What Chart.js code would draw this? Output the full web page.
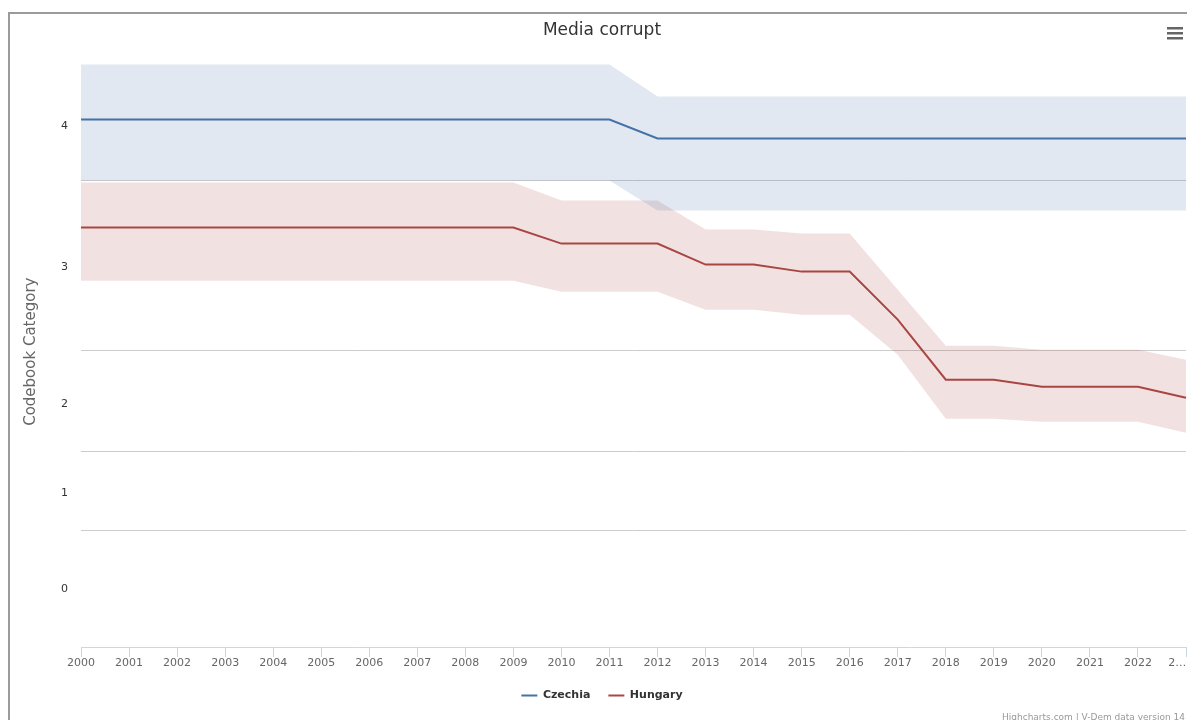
<!DOCTYPE html>
<html>
<head>
<meta charset="utf-8">
<title>Media corrupt</title>
<script src="https://cdn.jsdelivr.net/npm/chart.js@4"></script>
<style>
  html, body { margin: 0; padding: 0; background: #fff; overflow: hidden; }
  #chart { display: block; }
</style>
</head>
<body>
<canvas id="chart" width="1187" height="720"></canvas>
<script>
// Data (latent scale, arbitrary units)
const years = ['2000','2001','2002','2003','2004','2005','2006','2007','2008','2009','2010','2011',
  '2012','2013','2014','2015','2016','2017','2018','2019','2020','2021','2022','2023'];

const czechia     = [2.27,2.27,2.27,2.27,2.27,2.27,2.27,2.27,2.27,2.27,2.27,2.27, 2.08,2.08,2.08,2.08,2.08,2.08,2.08,2.08,2.08,2.08,2.08,2.08];
const czechiaHigh = [2.82,2.82,2.82,2.82,2.82,2.82,2.82,2.82,2.82,2.82,2.82,2.82, 2.50,2.50,2.50,2.50,2.50,2.50,2.50,2.50,2.50,2.50,2.50,2.50];
const czechiaLow  = [1.66,1.66,1.66,1.66,1.66,1.66,1.66,1.66,1.66,1.66,1.66,1.66, 1.36,1.36,1.36,1.36,1.36,1.36,1.36,1.36,1.36,1.36,1.36,1.36];

const hungary     = [1.19,1.19,1.19,1.19,1.19,1.19,1.19,1.19,1.19,1.19, 1.03,1.03,1.03, 0.82,0.82, 0.75,0.75, 0.27, -0.33,-0.33, -0.40,-0.40,-0.40, -0.51];
const hungaryHigh = [1.64,1.64,1.64,1.64,1.64,1.64,1.64,1.64,1.64,1.64, 1.46,1.46,1.46, 1.17,1.17, 1.13,1.13, 0.57, 0.01,0.01, -0.03,-0.03,-0.03, -0.13];
const hungaryLow  = [0.66,0.66,0.66,0.66,0.66,0.66,0.66,0.66,0.66,0.66, 0.55,0.55,0.55, 0.37,0.37, 0.32,0.32, -0.08, -0.72,-0.72, -0.75,-0.75,-0.75, -0.86];

// Codebook category labels sit between the category thresholds
const codebookLabels = ['0', '1', '2', '3', '4'];
const labelPositions = [-2.42, -1.46, -0.57, 0.79, 2.20];
const thresholds = [-1.84, -1.05, -0.04, 1.66];

const blue = '#4572A7';
const red = '#AA4643';

const chrome = {
  id: 'chrome',
  afterDraw(chart) {
    const ctx = chart.ctx;
    ctx.save();
    // outer frame
    ctx.fillStyle = '#9b9b9b';
    ctx.fillRect(8, 12, 2, 720);
    ctx.fillRect(8, 12, 1187, 2);
    // menu icon
    ctx.fillStyle = '#666';
    ctx.fillRect(1167, 27, 16, 2.5);
    ctx.fillRect(1167, 32, 16, 2.5);
    ctx.fillRect(1167, 37, 16, 2.5);
    // credits
    ctx.font = '9px "DejaVu Sans"';
    ctx.fillStyle = '#999';
    ctx.textAlign = 'right';
    ctx.textBaseline = 'alphabetic';
    ctx.fillText('Highcharts.com | V-Dem data version 14', 1185, 720);
    ctx.restore();
  }
};

new Chart(document.getElementById('chart').getContext('2d'), {
  type: 'line',
  data: {
    labels: years,
    datasets: [
      { label: 'czechiaLow', data: czechiaLow, borderWidth: 0, pointRadius: 0, fill: false },
      { label: 'czechiaHigh', data: czechiaHigh, borderWidth: 0, pointRadius: 0, fill: '-1', backgroundColor: 'rgba(69,114,167,0.16)' },
      { label: 'hungaryLow', data: hungaryLow, borderWidth: 0, pointRadius: 0, fill: false },
      { label: 'hungaryHigh', data: hungaryHigh, borderWidth: 0, pointRadius: 0, fill: '-1', backgroundColor: 'rgba(170,70,67,0.16)' },
      { label: 'Czechia', data: czechia, borderColor: blue, backgroundColor: blue, borderWidth: 2, pointRadius: 0, fill: false },
      { label: 'Hungary', data: hungary, borderColor: red, backgroundColor: red, borderWidth: 2, pointRadius: 0, fill: false },
    ],
  },
  options: {
    responsive: false,
    animation: false,
    devicePixelRatio: 1,
    layout: { padding: { left: 18, right: 1, bottom: 9, top: 0 } },
    elements: { line: { tension: 0 } },
    plugins: {
      title: {
        display: true,
        text: 'Media corrupt',
        color: '#333',
        font: { family: '"DejaVu Sans"', size: 17, weight: 'normal' },
        padding: { top: 20, bottom: 16 },
      },
      legend: {
        position: 'bottom',
        labels: {
          filter: (item) => item.datasetIndex >= 4,
          usePointStyle: true,
          pointStyle: 'line',
          pointStyleWidth: 16,
          color: '#333',
          padding: 18,
          font: { family: '"DejaVu Sans"', size: 11, weight: 'bold' },
        },
      },
      tooltip: { enabled: false },
    },
    scales: {
      x: {
        type: 'category',
        offset: false,
        grid: { drawOnChartArea: false, drawTicks: true, tickLength: 10, color: '#ccd6eb' },
        border: { color: '#ccd6eb', width: 1 },
        ticks: {
          autoSkip: false,
          maxRotation: 0,
          padding: 0,
          color: '#666',
          font: { family: '"DejaVu Sans"', size: 11 },
          callback: (v, i) => (i === years.length - 1 ? '2\u2026     ' : years[i]),
        },
        afterFit: (s) => { s.height = 25; s.paddingLeft = 0; s.paddingRight = 0; },
      },
      y: {
        min: -3,
        max: 2.9,
        grid: { display: false, drawTicks: false },
        border: { display: false },
        title: {
          display: true,
          text: 'Codebook Category',
          color: '#666',
          font: { family: '"DejaVu Sans"', size: 15 },
          padding: { top: 4, bottom: 0 },
        },
        ticks: {
          padding: 13,
          color: '#333',
          font: { family: '"DejaVu Sans"', size: 11 },
          callback: (v, i) => codebookLabels[i],
        },
        afterBuildTicks: (s) => { s.ticks = labelPositions.map((v) => ({ value: v })); },
        afterFit: (s) => { s.width = 63; },
      },
      yGrid: {
        position: 'left',
        min: -3,
        max: 2.9,
        grid: { color: '#cccccc', lineWidth: 1, drawTicks: false },
        border: { display: false },
        ticks: { display: false },
        afterBuildTicks: (s) => { s.ticks = thresholds.map((v) => ({ value: v })); },
        afterFit: (s) => { s.width = 0; },
      },
    },
  },
  plugins: [chrome],
});
</script>
</body>
</html>
